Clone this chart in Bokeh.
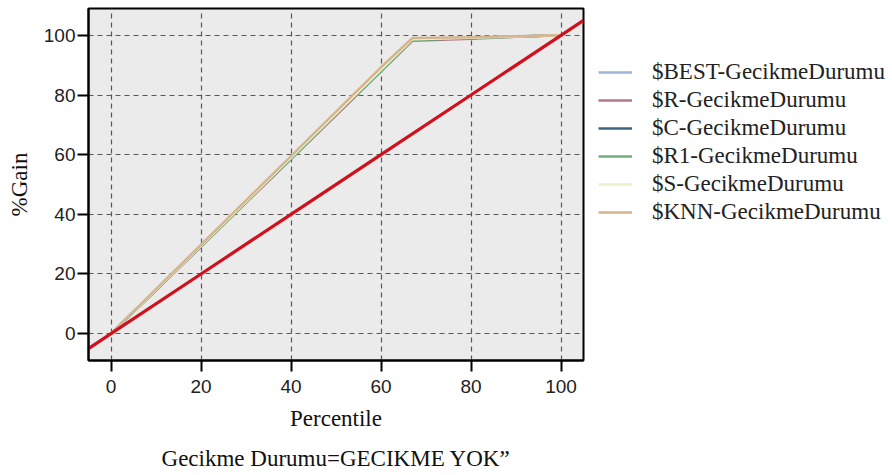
from bokeh.plotting import figure
from bokeh.models import Range1d, Legend, LegendItem, Title, FixedTicker
from bokeh.embed import file_html
from bokeh.resources import INLINE

pct = [0, 10, 20, 30, 40, 50, 60, 67, 80, 90, 100]
best_gain = [0, 14.7, 29.5, 44.2, 58.9, 73.6, 88.4, 98.7, 99.2, 99.6, 100]
r_gain = [0, 14.5, 29.2, 43.9, 58.5, 73.2, 87.9, 98.2, 98.9, 99.5, 100]
c_gain = [0, 14.6, 29.4, 44.1, 58.8, 73.5, 88.2, 98.5, 99.1, 99.6, 100]
r1_gain = [0, 14.6, 29.3, 44.0, 58.7, 73.4, 88.1, 98.4, 99.1, 99.6, 100]
s_gain = [0, 14.7, 29.5, 44.3, 59.0, 73.8, 88.5, 98.7, 99.2, 99.6, 100]
knn_gain = [0, 14.9, 29.8, 44.7, 59.5, 74.4, 89.3, 99.1, 99.4, 99.7, 100]
base_x = [-5, 0, 20, 40, 60, 80, 100, 105]
base_y = [-5, 0, 20, 40, 60, 80, 100, 105]

labels = ["$BEST-GecikmeDurumu", "$R-GecikmeDurumu", "$C-GecikmeDurumu",
          "$R1-GecikmeDurumu", "$S-GecikmeDurumu", "$KNN-GecikmeDurumu"]
series = [best_gain, r_gain, c_gain, r1_gain, s_gain, knn_gain]
colors = ["#9db6d8", "#b07a86", "#3c6583", "#6fb07e", "#f0efcc", "#d6b48e"]
ticks = [0, 20, 40, 60, 80, 100]
title_text = "Gecikme Durumu=GECIKME YOK\u201d"

SERIF = "Liberation Serif"
SANS = "Liberation Sans"

p = figure(frame_width=495, frame_height=352, output_backend="svg", toolbar_location=None,
           x_range=Range1d(-5, 105), y_range=Range1d(-9, 109),
           min_border_left=88, min_border_right=0, min_border_top=8, min_border_bottom=100,
           background_fill_color="#ebebeb", border_fill_color="white")

p.outline_line_color = "black"
p.outline_line_width = 2

for ax in (p.xaxis[0], p.yaxis[0]):
    ax.ticker = FixedTicker(ticks=ticks)
    ax.minor_tick_line_color = None
    ax.major_tick_in = 0
    ax.major_tick_out = 11
    ax.major_tick_line_color = "black"
    ax.major_tick_line_width = 2
    ax.axis_line_color = "black"
    ax.axis_line_width = 2
    ax.major_label_text_font = SANS
    ax.major_label_text_font_size = "19px"
    ax.major_label_text_color = "#222222"
    ax.axis_label_text_font = SERIF
    ax.axis_label_text_font_size = "23px"
    ax.axis_label_text_font_style = "normal"
    ax.axis_label_text_color = "#111111"

p.xaxis.axis_label = "Percentile"
p.yaxis.axis_label = "%Gain"
p.yaxis.major_label_standoff = 2
p.yaxis.axis_label_standoff = 9
p.xaxis.major_label_standoff = 8
p.xaxis.axis_label_standoff = 10

p.xgrid.ticker = FixedTicker(ticks=ticks)
p.ygrid.ticker = FixedTicker(ticks=ticks)
for g in (p.xgrid[0], p.ygrid[0]):
    g.grid_line_color = "#585858"
    g.grid_line_dash = "5 4"
    g.grid_line_width = 1.2

items = []
for lab, ys, col in zip(labels, series, colors):
    r = p.line(pct, ys, line_color=col, line_width=2.5)
    items.append(LegendItem(label=lab, renderers=[r]))

p.line(base_x, base_y, line_color="#d0101c", line_width=3.2)

legend = Legend(items=items, location="top_left", padding=0, margin=15,
                glyph_width=34, glyph_height=28, label_height=28, spacing=0,
                label_standoff=20, label_text_font=SERIF, label_text_font_size="23px",
                label_text_color="#222222", border_line_alpha=0, background_fill_alpha=0,
                title=" ", title_text_font_size="20px", title_standoff=12)
p.add_layout(legend, "right")

t = Title(text=title_text, align="center", text_font=SERIF, text_font_size="23px",
          text_font_style="normal", text_color="#111111", standoff=20)
p.add_layout(t, "below")

open("out.html", "w").write(file_html(p, INLINE))
